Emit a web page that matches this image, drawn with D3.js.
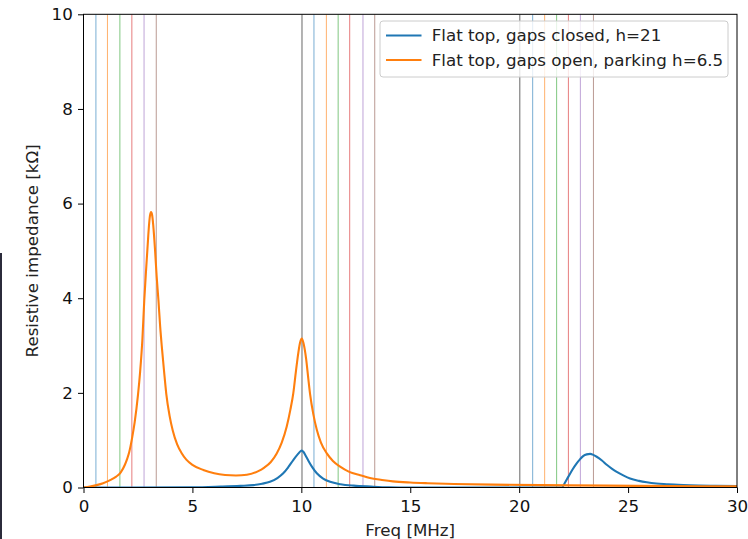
<!DOCTYPE html>
<html lang="en">
<head>
<meta charset="UTF-8">
<title>Resistive impedance</title>
<script src="https://d3js.org/d3.v7.min.js"></script>
<style>
  body { margin: 0; background: #fff; }
  text { font-family: "DejaVu Sans", sans-serif; }
</style>
</head>
<body>
<div id="chart"></div>
<script>
// frequencies of the marker lines [MHz]
const markerFreqs = [0, 0.57, 1.1, 1.67, 2.22, 2.78, 3.34,
                     10.03, 10.58, 11.15, 11.69, 12.22, 12.83, 13.37,
                     20.03, 20.62, 21.17, 21.72, 22.26, 22.81, 23.41];
const markerColors = ["#000000", "#1f77b4", "#ff7f0e", "#2ca02c", "#d62728", "#9467bd", "#8c564b"];

// series: [freq MHz, resistive impedance kOhm]
const closedFreq = [0, 5, 6.3, 7.2, 7.8, 8.2, 8.56, 8.9, 9.17, 9.4, 9.63, 9.85, 9.95, 10.02, 10.1, 10.2, 10.32, 10.5,
  10.71, 11.0, 11.32, 11.8, 12.4, 13.2, 14, 15, 21.96, 22.1, 22.26, 22.45, 22.64, 22.8, 22.95, 23.1,
  23.26, 23.4, 23.56, 23.8, 24.02, 24.25, 24.48, 24.8, 25.09, 25.5, 25.86, 26.3, 26.77, 27.3, 27.85, 29, 30];
const closedVal = [0, 0.005, 0.02, 0.035, 0.05, 0.08, 0.12, 0.2, 0.3, 0.43, 0.58, 0.71, 0.76, 0.78, 0.75, 0.67, 0.57, 0.43,
  0.3, 0.19, 0.12, 0.07, 0.04, 0.02, 0.005, 0, 0, 0.1, 0.23, 0.38, 0.51, 0.6, 0.67, 0.7,
  0.71, 0.69, 0.65, 0.57, 0.48, 0.4, 0.33, 0.25, 0.19, 0.14, 0.11, 0.085, 0.07, 0.055, 0.045, 0.035, 0.03];

const openFreq = [0, 0.3, 0.6, 0.9, 1.2, 1.5, 1.71, 1.9, 2.0, 2.1, 2.24, 2.35, 2.5, 2.6, 2.7, 2.79, 2.88, 2.95,
  3.0, 3.05, 3.1, 3.15, 3.2, 3.28, 3.36, 3.44, 3.52, 3.6, 3.7, 3.8, 3.95, 4.1, 4.3, 4.5, 4.72, 5.0, 5.5,
  6.0, 6.5, 7.0, 7.5, 8.0, 8.3, 8.6, 8.87, 9.1, 9.33, 9.5, 9.63, 9.75, 9.86, 9.94, 10.02, 10.1, 10.22,
  10.32, 10.4, 10.55, 10.71, 10.9, 11.17, 11.45, 11.78, 12.2, 12.7, 13.15, 13.7, 14.2, 15, 15.8, 17,
  18.8, 21, 24, 27, 30];
const openVal = [0, 0.02, 0.05, 0.09, 0.15, 0.23, 0.32, 0.48, 0.6, 0.75, 1.07, 1.38, 1.95, 2.45, 3.1, 3.96, 4.65, 5.15,
  5.5, 5.74, 5.82, 5.76, 5.55, 5.05, 4.45, 3.96, 3.4, 2.95, 2.45, 1.98, 1.52, 1.2, 0.91, 0.73, 0.59, 0.48, 0.37,
  0.3, 0.265, 0.255, 0.27, 0.34, 0.42, 0.54, 0.72, 0.95, 1.29, 1.65, 1.99, 2.45, 2.84, 3.06, 3.15, 3.05, 2.72,
  2.3, 1.98, 1.55, 1.22, 0.95, 0.72, 0.56, 0.44, 0.33, 0.26, 0.2, 0.16, 0.13, 0.105, 0.09, 0.075,
  0.06, 0.05, 0.04, 0.03, 0.025];

const seriesNames = ["Flat top, gaps closed, h=21", "Flat top, gaps open, parking h=6.5"];
const seriesColors = ["#1f77b4", "#ff7f0e"];
const xTicks = [0, 5, 10, 15, 20, 25, 30];
const yTicks = [0, 2, 4, 6, 8, 10];

const width = 748, height = 539;
const mLeft = 83.5, mRight = 737, mTop = 14.3, mBottom = 487.5;
const fontSize = 16.7;

const svg = d3.select("#chart").append("svg")
  .attr("width", width).attr("height", height);

// stray edge of a window on the left
svg.append("rect").attr("x", 0).attr("y", 253).attr("width", 2).attr("height", height - 253)
  .attr("fill", "#2b2b3b");

const x = d3.scaleLinear().domain([0, 30]).range([mLeft, mRight]);
const y = d3.scaleLinear().domain([0, 10]).range([mBottom, mTop]);

svg.append("defs").append("clipPath").attr("id", "plot")
  .append("rect").attr("x", mLeft).attr("y", mTop)
  .attr("width", mRight - mLeft).attr("height", mBottom - mTop);

const plot = svg.append("g").attr("clip-path", "url(#plot)");

plot.selectAll("line.marker")
  .data(markerFreqs)
  .enter().append("line")
  .attr("class", "marker")
  .attr("x1", d => x(d)).attr("x2", d => x(d))
  .attr("y1", mTop).attr("y2", mBottom)
  .attr("stroke", (d, i) => markerColors[i % markerColors.length])
  .attr("stroke-opacity", 0.6)
  .attr("stroke-width", 1);

const line = d3.line()
  .x(d => x(d[0])).y(d => y(d[1]))
  .curve(d3.curveMonotoneX);

const closed = closedFreq.map((f, i) => [f, closedVal[i]]);
const open = openFreq.map((f, i) => [f, openVal[i]]);

[closed, open].forEach((s, i) => {
  plot.append("path").datum(s)
    .attr("d", line)
    .attr("fill", "none")
    .attr("stroke", seriesColors[i])
    .attr("stroke-width", 2.1)
    .attr("stroke-linejoin", "round");
});

// axes
const xAxis = d3.axisBottom(x).tickValues(xTicks).tickSize(5.5).tickPadding(7.2).tickFormat(d3.format("d"));
const yAxis = d3.axisLeft(y).tickValues(yTicks).tickSize(5.5).tickPadding(5.2).tickFormat(d3.format("d"));

const gx = svg.append("g").attr("transform", `translate(0,${mBottom})`).call(xAxis);
const gy = svg.append("g").attr("transform", `translate(${mLeft},0)`).call(yAxis);
[gx, gy].forEach(g => {
  g.select(".domain").remove();
  g.selectAll("line").attr("stroke", "#000").attr("stroke-width", 1);
  g.selectAll("text").attr("font-size", fontSize).attr("fill", "#111")
    .attr("font-family", "DejaVu Sans, sans-serif");
});

// frame
svg.append("rect").attr("x", mLeft).attr("y", mTop)
  .attr("width", mRight - mLeft).attr("height", mBottom - mTop)
  .attr("fill", "none").attr("stroke", "#000").attr("stroke-width", 1);

svg.append("text").attr("x", (mLeft + mRight) / 2).attr("y", 536)
  .attr("text-anchor", "middle").attr("font-size", fontSize).attr("fill", "#222")
  .text("Freq [MHz]");
svg.append("text")
  .attr("transform", `translate(37.5,${(mTop + mBottom) / 2}) rotate(-90)`)
  .attr("text-anchor", "middle").attr("font-size", fontSize).attr("fill", "#222")
  .text("Resistive impedance [kΩ]");

// legend
const lg = svg.append("g").attr("transform", "translate(380,21)");
lg.append("rect").attr("width", 348).attr("height", 56).attr("rx", 3)
  .attr("fill", "#fff").attr("fill-opacity", 0.8)
  .attr("stroke", "#ccc").attr("stroke-width", 1);
seriesNames.forEach((name, i) => {
  const row = lg.append("g").attr("transform", `translate(0,${14.5 + i * 24.5})`);
  row.append("line").attr("x1", 6).attr("x2", 41.5)
    .attr("stroke", seriesColors[i]).attr("stroke-width", 2.1);
  row.append("text").attr("x", 51.7).attr("dy", "0.35em")
    .attr("font-size", fontSize).attr("fill", "#222").text(name);
});
</script>
</body>
</html>
